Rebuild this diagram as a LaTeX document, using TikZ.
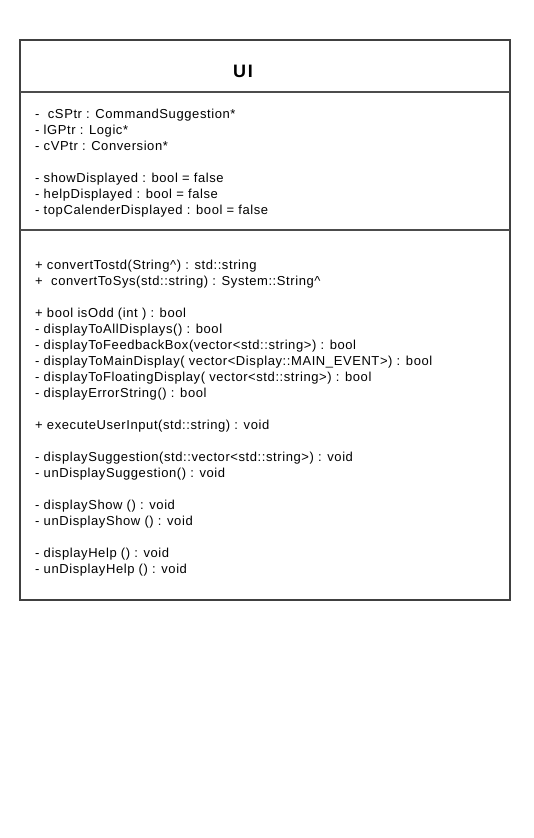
\documentclass[tikz,border=0pt]{standalone}
\usepackage{fontspec}
\setmainfont{Liberation Sans}
\newfontfamily\memberfont[LetterSpace=4.5]{Liberation Sans}
\newfontfamily\titlefont[LetterSpace=10]{Liberation Sans}
\begin{document}
\begin{tikzpicture}[x=1pt,y=-1pt,
  frame/.style={draw=black!75, line width=1.4pt},
  divider/.style={draw=black!70, line width=1.8pt},
  member/.style={anchor=base west, inner sep=0pt, font=\memberfont\fontsize{13}{16}\selectfont},
  title/.style={anchor=center, inner sep=0pt, font=\titlefont\fontsize{18}{20}\selectfont\bfseries}]
\useasboundingbox[fill=white] (0,0) rectangle (534,838);
\draw[frame] (20,40) rectangle (510,600);
\coordinate (d1l) at (20,92); \coordinate (d1r) at (510,92);
\coordinate (d2l) at (20,230); \coordinate (d2r) at (510,230);
\draw[divider] (d1l) -- (d1r);
\draw[divider] (d2l) -- (d2r);
\node[title] (ttl) at (243,71) {UI};
% attributes
\node[member] (a1) at (35,118) {-\ \ cSPtr : CommandSuggestion*};
\node[member] (a2) at (35,134) {- lGPtr : Logic*};
\node[member] (a3) at (35,150) {- cVPtr : Conversion*};
\node[member] (a4) at (35,182) {- showDisplayed : bool = false};
\node[member] (a5) at (35,198) {- helpDisplayed : bool = false};
\node[member] (a6) at (35,214) {- topCalenderDisplayed : bool = false};
% methods
\node[member] (m1) at (35,269) {+ convertTostd(String\textasciicircum) : std::string};
\node[member] (m2) at (35,285) {+\ \ convertToSys(std::string) : System::String\textasciicircum};
\node[member] (m3) at (35,317) {+ bool isOdd (int ) : bool};
\node[member] (m4) at (35,333) {- displayToAllDisplays() : bool};
\node[member] (m5) at (35,349) {- displayToFeedbackBox(vector<std::string>) : bool};
\node[member] (m6) at (35,365) {- displayToMainDisplay( vector<Display::MAIN\_EVENT>) : bool};
\node[member] (m7) at (35,381) {- displayToFloatingDisplay( vector<std::string>) : bool};
\node[member] (m8) at (35,397) {- displayErrorString() : bool};
\node[member] (m9) at (35,429) {+ executeUserInput(std::string) : void};
\node[member] (m10) at (35,461) {- displaySuggestion(std::vector<std::string>) : void};
\node[member] (m11) at (35,477) {- unDisplaySuggestion() : void};
\node[member] (m12) at (35,509) {- displayShow () : void};
\node[member] (m13) at (35,525) {- unDisplayShow () : void};
\node[member] (m14) at (35,557) {- displayHelp () : void};
\node[member] (m15) at (35,573) {- unDisplayHelp () : void};
\end{tikzpicture}
\end{document}
